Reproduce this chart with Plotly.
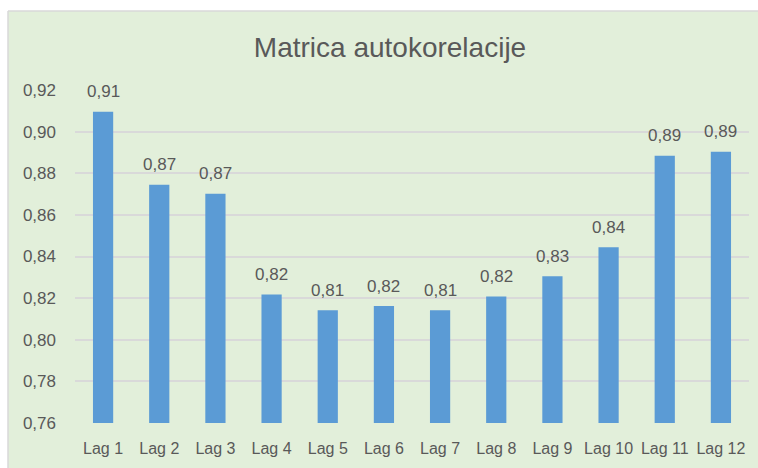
import plotly.graph_objects as go

categories = ["Lag 1", "Lag 2", "Lag 3", "Lag 4", "Lag 5", "Lag 6",
              "Lag 7", "Lag 8", "Lag 9", "Lag 10", "Lag 11", "Lag 12"]
values = [0.9096, 0.8745, 0.8702, 0.8217, 0.8142, 0.8162,
          0.8142, 0.8208, 0.8305, 0.8445, 0.8884, 0.8903]
y_ticks = [0.76, 0.78, 0.80, 0.82, 0.84, 0.86, 0.88, 0.90, 0.92]
title_text = "Matrica autokorelacije"

GREEN = "#e2efda"
TEXT = "#595959"
FONT = "Liberation Sans"

W, H = 758, 468
L, R, T, B = 75, 9, 90, 45
pw, ph = W - L - R, H - T - B


def px_x(px):
    return (px - L) / pw


def px_y(py):
    return (H - B - py) / ph


fig = go.Figure()
fig.add_trace(go.Bar(
    x=categories, y=values,
    marker=dict(color="#5b9bd5", line=dict(width=0)),
    hoverinfo="skip",
))

for c, v in zip(categories, values):
    fig.add_annotation(
        x=c, y=v, text=f"{v:.2f}".replace(".", ","),
        showarrow=False, yanchor="middle", yshift=20,
        font=dict(family=FONT, size=17, color=TEXT),
    )

# white margin strips + chart border
fig.add_shape(type="rect", xref="paper", yref="paper",
              x0=px_x(-2), x1=px_x(8), y0=px_y(H + 2), y1=px_y(-2),
              fillcolor="white", line=dict(width=0), layer="above")
fig.add_shape(type="rect", xref="paper", yref="paper",
              x0=px_x(-2), x1=px_x(W + 2), y0=px_y(11), y1=px_y(-2),
              fillcolor="white", line=dict(width=0), layer="above")
fig.add_shape(type="line", xref="paper", yref="paper",
              x0=px_x(8), x1=px_x(W + 2), y0=px_y(11), y1=px_y(11),
              line=dict(color="#d9d9d9", width=1.5), layer="above")
fig.add_shape(type="line", xref="paper", yref="paper",
              x0=px_x(8), x1=px_x(8), y0=px_y(11), y1=px_y(H + 2),
              line=dict(color="#d9d9d9", width=1.5), layer="above")

fig.update_layout(
    width=W, height=H,
    margin=dict(l=L, r=R, t=T, b=B),
    paper_bgcolor=GREEN, plot_bgcolor=GREEN,
    separators=",.",
    bargap=0.64,
    showlegend=False,
    title=dict(text=title_text, x=390 / W, xanchor="center",
               y=1 - 47 / H, yanchor="middle",
               font=dict(family=FONT, size=28, color=TEXT)),
    font=dict(family=FONT, size=16, color=TEXT),
)
fig.update_xaxes(showgrid=False, showline=False, ticks="",
                 ticklabelstandoff=14,
                 tickfont=dict(family=FONT, size=16, color=TEXT))
fig.update_yaxes(range=[0.76, 0.92], tickvals=y_ticks, tickformat=".2f",
                 showgrid=True, gridcolor="#d9d9d9", gridwidth=1.5,
                 zeroline=False, showline=False, ticks="",
                 ticklabelstandoff=18,
                 tickfont=dict(family=FONT, size=17, color=TEXT))

fig.write_html("out.html",
               config={"displayModeBar": False},
               post_script="document.documentElement.style.overflow='hidden';"
                           "document.documentElement.style.margin='0';"
                           "document.body.style.margin='0';"
                           "document.body.style.overflow='hidden';")
